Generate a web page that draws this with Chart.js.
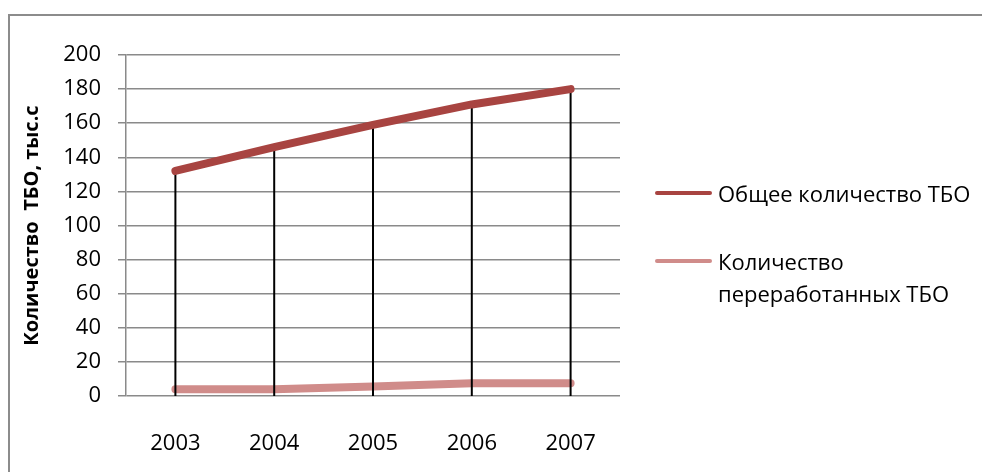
<!DOCTYPE html>
<html>
<head>
<meta charset="utf-8">
<script src="https://cdn.jsdelivr.net/npm/chart.js@4"></script>
<style>
    html, body { margin: 0; padding: 0; background: #fff; overflow: hidden; }
    #wrap { position: relative; width: 982px; height: 472px; }
    #frame { position: absolute; left: 8px; top: 14px; width: 1000px; height: 500px; border: 2px solid #8c8c8c; box-sizing: border-box; }
    #chart { position: absolute; left: 0; top: 0; }
</style>
</head>
<body>
<div id="wrap">
    <div id="frame"></div>
    <canvas id="chart" width="982" height="472"></canvas>
</div>
<script>
const years = ['2003', '2004', '2005', '2006', '2007'];
const totalWaste = [132, 146, 159, 171, 180];
const recycledWaste = [4, 4, 5.5, 7.5, 7.5];
const seriesNames = ['Общее количество ТБО', 'Количество переработанных ТБО'];
const yTitle = 'Количество  ТБО, тыс.с';
const yMin = 0;
const yMax = 200;
const yStep = 20;

const FONT = '"Open Sans", "DejaVu Sans", sans-serif';

// vertical drop lines from the top series down to the category axis
const dropLines = {
    id: 'dropLines',
    beforeDatasetDraw(chart, args) {
        if (args.index !== 0) return;
        const ctx = chart.ctx;
        const y = chart.scales.y;
        const points = chart.getDatasetMeta(0).data;
        ctx.save();
        ctx.strokeStyle = '#000';
        ctx.lineWidth = 2;
        points.forEach((pt) => {
            ctx.beginPath();
            ctx.moveTo(pt.x, y.getPixelForValue(0));
            ctx.lineTo(pt.x, pt.y);
            ctx.stroke();
        });
        ctx.restore();
    },
};

// legend on the right with word wrapping
const sideLegend = {
    id: 'sideLegend',
    afterDraw(chart, args, opts) {
        const ctx = chart.ctx;
        ctx.save();
        ctx.font = '22px ' + FONT;
        ctx.textBaseline = 'middle';
        ctx.fillStyle = '#000';
        let y = opts.top;
        chart.data.datasets.forEach((ds) => {
            ctx.strokeStyle = ds.borderColor;
            ctx.lineWidth = 4;
            ctx.lineCap = 'round';
            ctx.beginPath();
            ctx.moveTo(opts.left, y);
            ctx.lineTo(opts.left + opts.sample, y);
            ctx.stroke();

            const words = ds.label.split(' ');
            const lines = [];
            let line = '';
            words.forEach((w) => {
                const test = line ? line + ' ' + w : w;
                if (line && ctx.measureText(test).width > opts.maxWidth) {
                    lines.push(line);
                    line = w;
                } else {
                    line = test;
                }
            });
            lines.push(line);
            lines.forEach((l, i) => {
                ctx.fillText(l, opts.left + opts.sample + 8, y + 3 + i * 32);
            });
            y += opts.gap;
        });
        ctx.restore();
    },
};

new Chart(document.getElementById('chart'), {
    type: 'line',
    data: {
        labels: years,
        datasets: [{
            label: seriesNames[0],
            data: totalWaste,
            borderColor: '#a84441',
            borderWidth: 8,
            borderCapStyle: 'round',
            borderJoinStyle: 'round',
            pointRadius: 0,
            tension: 0,
        }, {
            label: seriesNames[1],
            data: recycledWaste,
            borderColor: '#d08c8a',
            borderWidth: 8,
            borderCapStyle: 'round',
            borderJoinStyle: 'round',
            pointRadius: 0,
            tension: 0,
        }],
    },
    options: {
        responsive: false,
        animation: false,
        layout: {
            padding: { left: 10, top: 55, right: 362, bottom: 0 },
        },
        plugins: {
            legend: { display: false },
            tooltip: { enabled: false },
            sideLegend: { left: 657, top: 193, sample: 53, gap: 68, maxWidth: 272 },
        },
        scales: {
            x: {
                offset: true,
                grid: { display: false },
                border: { display: false },
                ticks: {
                    color: '#000',
                    padding: 27,
                    maxRotation: 0,
                    font: { family: FONT, size: 22 },
                },
                afterFit(scale) {
                    scale.height = 472 - 396;
                },
            },
            y: {
                min: yMin,
                max: yMax,
                grid: {
                    color: '#8a8a8a',
                    lineWidth: 1.5,
                    tickLength: 8,
                },
                border: { color: '#8a8a8a', width: 1.5 },
                ticks: {
                    stepSize: yStep,
                    color: '#000',
                    padding: 17,
                    font: { family: FONT, size: 22 },
                },
                title: {
                    display: true,
                    text: yTitle,
                    color: '#000',
                    padding: { top: 10, bottom: 0 },
                    font: { family: FONT, size: 20, weight: 'bold' },
                },
                afterFit(scale) {
                    scale.width = 126 - 10;
                },
            },
        },
    },
    plugins: [dropLines, sideLegend],
});
</script>
</body>
</html>
